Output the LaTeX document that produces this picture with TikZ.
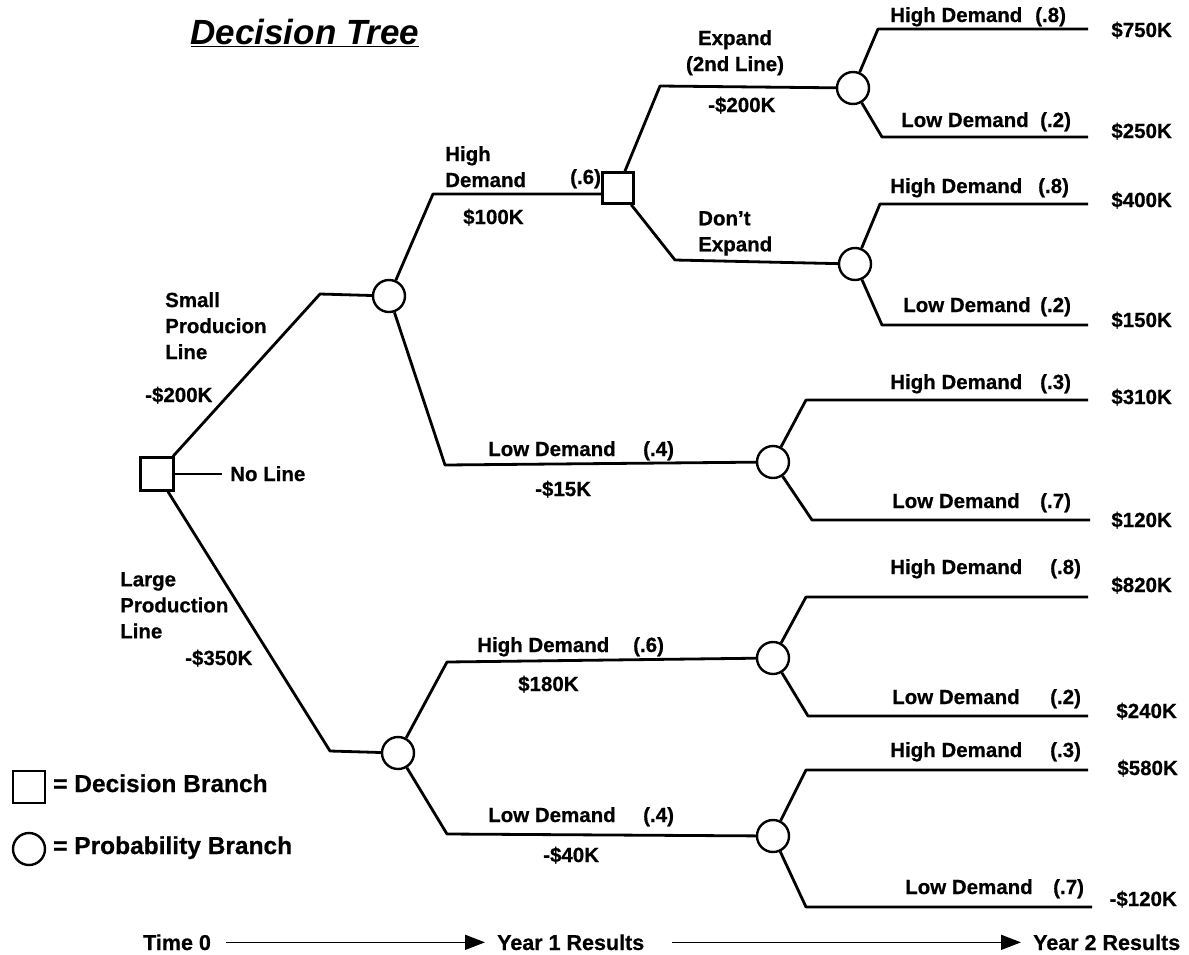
\documentclass[tikz,border=0pt]{standalone}
\usepackage{fontspec}
\setmainfont{Liberation Sans}[BoldFeatures={FakeBold=0.6}]
\usetikzlibrary{arrows.meta}
\begin{document}
\begin{tikzpicture}[x=1pt,y=-1pt,
  br/.style={line width=2.8pt, line join=round},
  chance/.style={circle, draw, line width=2.4pt, minimum size=32pt, inner sep=0pt, fill=white},
  decision/.style={rectangle, draw, line width=2.4pt, minimum size=33pt, inner sep=0pt, fill=white},
  lbl/.style={font=\bfseries\fontsize{20.5}{26}\selectfont, inner sep=0pt},
  lw/.style={lbl, anchor=base west},
  ml/.style={lbl, anchor=north west, align=left},
  pay/.style={lbl, anchor=base east},
  leg/.style={font=\bfseries\fontsize{24.5}{28}\selectfont, inner sep=0pt, anchor=base west},
  tl/.style={font=\bfseries\fontsize{21.5}{24}\selectfont, inner sep=0pt},
  tarrow/.style={line width=1.6pt, -{Triangle[length=20pt,width=15pt]}}
]
\useasboundingbox (0,0) rectangle (1189,954);

% title
\node[font=\bfseries\itshape\fontsize{35}{38}\selectfont, inner sep=0pt, anchor=base] (title) at (305,44) {\underline{Decision Tree}};

% decision and chance nodes
\node[decision] (s0) at (157,474) {};
\node[chance] (c1) at (389,296) {};
\node[decision, minimum size=31pt] (s2) at (618,188) {};
\node[chance] (c3) at (773,462) {};
\node[chance] (c4) at (398,753) {};
\node[chance] (c5) at (773,658) {};
\node[chance] (c6) at (773,836) {};
\node[chance] (cE) at (853,88) {};
\node[chance] (cD) at (855,264) {};

% bend coordinates
\coordinate (kS) at (320,294);
\coordinate (kL) at (330,751);
\coordinate (kNo) at (222,474);
\coordinate (kH1) at (433,194);
\coordinate (kL1) at (445,465);
\coordinate (kE) at (660,86);
\coordinate (kD) at (675,260);
\coordinate (kH4) at (447,662);
\coordinate (kL4) at (447,834);
\coordinate (a1) at (878,29);  \coordinate (e1) at (1088,29);
\coordinate (a2) at (882,137); \coordinate (e2) at (1088,137);
\coordinate (a3) at (880,204); \coordinate (e3) at (1088,204);
\coordinate (a4) at (882,325); \coordinate (e4) at (1088,325);
\coordinate (a5) at (806,400); \coordinate (e5) at (1088,400);
\coordinate (a6) at (812,520); \coordinate (e6) at (1090,520);
\coordinate (a7) at (806,597); \coordinate (e7) at (1088,597);
\coordinate (a8) at (808,716); \coordinate (e8) at (1088,716);
\coordinate (a9) at (806,770); \coordinate (e9) at (1088,770);
\coordinate (a10) at (806,907); \coordinate (e10) at (1092,907);

% connectors
\draw[br] (s0) -- (kS) -- (c1);
\draw[br] (s0) -- (kNo);
\draw[br] (s0) -- (kL) -- (c4);
\draw[br] (c1) -- (kH1) -- (kH1 -| s2.west);
\draw[br] (c1) -- (kL1) -- (c3);
\draw[br] (s2) -- (kE) -- (cE);
\draw[br] (s2) -- (kD) -- (cD);
\draw[br] (c4) -- (kH4) -- (c5);
\draw[br] (c4) -- (kL4) -- (c6);
\draw[br] (cE) -- (a1) -- (e1);
\draw[br] (cE) -- (a2) -- (e2);
\draw[br] (cD) -- (a3) -- (e3);
\draw[br] (cD) -- (a4) -- (e4);
\draw[br] (c3) -- (a5) -- (e5);
\draw[br] (c3) -- (a6) -- (e6);
\draw[br] (c5) -- (a7) -- (e7);
\draw[br] (c5) -- (a8) -- (e8);
\draw[br] (c6) -- (a9) -- (e9);
\draw[br] (c6) -- (a10) -- (e10);

% first-stage labels
\node[ml] (lsmall) at (165,292) {Small\\Producion\\Line};
\node[lw] (csmall) at (145,402) {-\$200K};
\node[lw] (lno) at (230,481) {No Line};
\node[ml] (llarge) at (120,572) {Large\\Production\\Line};
\node[lw] (clarge) at (185,665) {-\$350K};

% year 1 labels
\node[ml] (lh1) at (445,146) {High\\Demand};
\node[lw] (ph1) at (570,184) {(.6)};
\node[lw] (vh1) at (463,224) {\$100K};
\node[lw] (ll1) at (488,456) {Low Demand};
\node[lw] (pl1) at (643,456) {(.4)};
\node[lw] (vl1) at (535,496) {-\$15K};
\node[lw] (lh4) at (477,652) {High Demand};
\node[lw] (ph4) at (633,652) {(.6)};
\node[lw] (vh4) at (518,691) {\$180K};
\node[lw] (ll4) at (488,822) {Low Demand};
\node[lw] (pl4) at (643,822) {(.4)};
\node[lw] (vl4) at (543,862) {-\$40K};

% second decision labels
\node[lbl, align=center, anchor=north] (lexp) at (735,30) {Expand\\(2nd Line)};
\node[lw] (vexp) at (708,112) {-\$200K};
\node[ml] (ldont) at (698,211) {Don't\\Expand};

% year 2 labels
\node[lw] (q1) at (890,22) {High Demand};   \node[lw] (r1) at (1035,22) {(.8)};
\node[lw] (q2) at (901,127) {Low Demand};   \node[lw] (r2) at (1040,127) {(.2)};
\node[lw] (q3) at (890,193) {High Demand};  \node[lw] (r3) at (1038,193) {(.8)};
\node[lw] (q4) at (903,312) {Low Demand};   \node[lw] (r4) at (1040,312) {(.2)};
\node[lw] (q5) at (890,389) {High Demand};  \node[lw] (r5) at (1040,389) {(.3)};
\node[lw] (q6) at (892,508) {Low Demand};   \node[lw] (r6) at (1040,508) {(.7)};
\node[lw] (q7) at (890,574) {High Demand};  \node[lw] (r7) at (1050,574) {(.8)};
\node[lw] (q8) at (892,704) {Low Demand};   \node[lw] (r8) at (1050,704) {(.2)};
\node[lw] (q9) at (890,757) {High Demand};  \node[lw] (r9) at (1050,757) {(.3)};
\node[lw] (q10) at (905,894) {Low Demand};  \node[lw] (r10) at (1053,894) {(.7)};

% payoffs
\node[pay] (v1) at (1172,37) {\$750K};
\node[pay] (v2) at (1172,138) {\$250K};
\node[pay] (v3) at (1172,207) {\$400K};
\node[pay] (v4) at (1172,327) {\$150K};
\node[pay] (v5) at (1172,404) {\$310K};
\node[pay] (v6) at (1172,527) {\$120K};
\node[pay] (v7) at (1172,592) {\$820K};
\node[pay] (v8) at (1177,718) {\$240K};
\node[pay] (v9) at (1178,775) {\$580K};
\node[pay] (v10) at (1177,906) {-\$120K};

% legend
\node[decision, minimum size=32pt] (legsq) at (29,787) {};
\node[leg] (legsqt) at (53,792) {= Decision Branch};
\node[chance] (legci) at (29,849) {};
\node[leg] (legcit) at (53,854) {= Probability Branch};

% time axis
\node[tl, anchor=base west] (t0) at (143,950) {Time 0};
\node[tl, anchor=base west] (t1) at (497,950) {Year 1 Results};
\node[tl, anchor=base west] (t2) at (1033,950) {Year 2 Results};
\draw[tarrow, shorten <=15pt, shorten >=12pt] (t0) -- (t1);
\draw[tarrow, shorten <=28pt, shorten >=12pt] (t1) -- (t2);
\end{tikzpicture}
\end{document}
